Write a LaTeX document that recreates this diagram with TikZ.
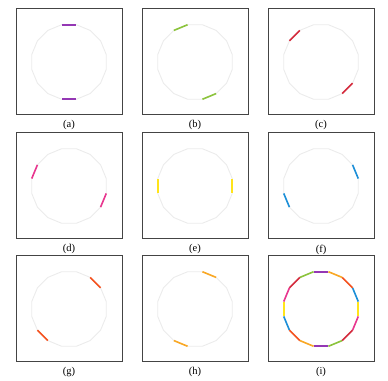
\documentclass[tikz,border=0pt]{standalone}
\usepackage{fontspec}
\setmainfont{Liberation Serif}
\usetikzlibrary{positioning}

\definecolor{framegray}{HTML}{444444}
\definecolor{ringgray}{HTML}{EBEBEB}
\definecolor{cpurple}{HTML}{9437B4}
\definecolor{cgreen}{HTML}{8CC43C}
\definecolor{cred}{HTML}{D42A3C}
\definecolor{cpink}{HTML}{E8368F}
\definecolor{cyellow}{HTML}{FFE41A}
\definecolor{cblue}{HTML}{1C8FD8}
\definecolor{corangered}{HTML}{F4511E}
\definecolor{corange}{HTML}{F9A825}

\tikzset{
  panel/.style={draw=framegray, line width=1pt, minimum width=106pt, minimum height=106pt, inner sep=0pt},
  caption/.style={font=\fontsize{10.5}{12}\selectfont, inner sep=1pt},
  ring/.style={draw=ringgray, line width=0.9pt},
  side/.style={line width=1.6pt}
}

\begin{document}
\begin{tikzpicture}[x=1pt,y=1pt]
\useasboundingbox (0,0) rectangle (388,380);

% Row 1
\node[panel] (pa) at (69,318) {};
\node[panel] (pb) at (195,318) {};
\node[panel] (pc) at (321,318) {};

% Row 2
\node[panel] (pd) at (69,194) {};
\node[panel] (pe) at (195,194) {};
\node[panel] (pf) at (321,194) {};

% Row 3
\node[panel] (pg) at (69,71) {};
\node[panel] (ph) at (195,71) {};
\node[panel] (pi) at (321,71) {};

% Captions
\node[caption, below=4pt of pa] (la) {(a)};
\node[caption, below=4pt of pb] (lb) {(b)};
\node[caption, below=4pt of pc] (lc) {(c)};
\node[caption, below=4pt of pd] (ld) {(d)};
\node[caption, below=4pt of pe] (le) {(e)};
\node[caption, below=4pt of pf] (lf) {(f)};
\node[caption, below=4pt of pg] (lg) {(g)};
\node[caption, below=4pt of ph] (lh) {(h)};
\node[caption, below=4pt of pi] (li) {(i)};

% Light 16-gon in every panel
\foreach \p in {pa,pb,pc,pd,pe,pf,pg,ph,pi}
  \draw[ring, shift={(\p.center)}] (101.25:38)
    \foreach \k in {1,...,15} { -- ({101.25-\k*22.5}:38) } -- cycle;

% Opposite sides, one pair per panel and all of them in (i)
\foreach \p/\a/\c in {pa/90/cpurple, pb/112.5/cgreen, pc/135/cred, pd/157.5/cpink,
                      pe/180/cyellow, pf/202.5/cblue, pg/225/corangered, ph/247.5/corange}
{
  \draw[side, \c, shift={(\p.center)}] ({\a+11.25}:38) -- ({\a-11.25}:38)
    ({\a+191.25}:38) -- ({\a+168.75}:38);
  \draw[side, \c, shift={(pi.center)}] ({\a+11.25}:38) -- ({\a-11.25}:38)
    ({\a+191.25}:38) -- ({\a+168.75}:38);
}

\end{tikzpicture}
\end{document}
